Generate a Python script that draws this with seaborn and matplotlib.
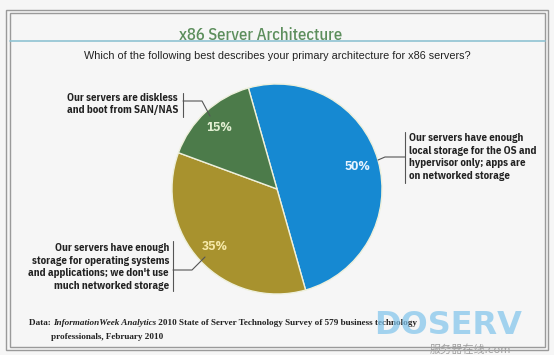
import matplotlib
matplotlib.use("Agg")
import matplotlib.pyplot as plt
import seaborn as sns
from matplotlib.lines import Line2D
from matplotlib.patches import Rectangle

# ---- data ----
categories = [
    "Our servers have enough\nlocal storage for the OS and\nhypervisor only; apps are\non networked storage",
    "Our servers have enough\nstorage for operating systems\nand applications; we don't use\nmuch networked storage",
    "Our servers are diskless\nand boot from SAN/NAS",
]
values = [50, 35, 15]
colors = ["#1689d2", "#a8922e", "#4c7b4a"]
pct_colors = ["#e6f3ff", "#f6e9a8", "#e2efd2"]

title = "x86 Server Architecture"
subtitle = "Which of the following best describes your primary architecture for x86 servers?"
source_parts = [("Data: ", "normal"), ("InformationWeek Analytics", "italic"),
                (" 2010 State of Server Technology Survey of 579 business technology", "normal")]
source_line2 = "professionals, February 2010"

sns.set_theme(style="white")
COND = ["IBM Plex Sans Condensed", "DejaVu Sans"]
SERIF = ["Liberation Serif", "DejaVu Serif"]
plt.rcParams["font.family"] = COND

W, H = 554, 355
fig = plt.figure(figsize=(W / 100, H / 100), dpi=100)
fig.patch.set_facecolor("#f6f6f6")


def P(x, y):
    return (x / W, 1 - y / H)


def fline(xs, ys, **kw):
    fig.add_artist(Line2D([x / W for x in xs], [1 - y / H for y in ys],
                          transform=fig.transFigure, **kw))


# frame (double border)
for (x0, y0, x1, y1) in [(6, 10, 548, 350), (9.5, 13, 545, 347)]:
    fig.add_artist(Rectangle(P(x0, y1), (x1 - x0) / W, (y1 - y0) / H,
                             transform=fig.transFigure, fill=False,
                             edgecolor="#9a9a9a", lw=1.0))

# teal rule under title
fline([10, 545], [41, 41], color="#8fc3d3", lw=1.2)

fig.text(*P(261, 35), title, ha="center", va="center", fontsize=12,
         fontweight="medium", color="#5c8e5c")
fig.text(*P(277, 56), subtitle, ha="center", va="center", fontsize=7.8,
         color="#222222", family=["Liberation Sans", "DejaVu Sans"])

# pie
cx, cy, r = 277, 189, 105
ax = fig.add_axes([(cx - r) / W, (H - cy - r) / H, 2 * r / W, 2 * r / H])
ax.set_facecolor("none")
wedges, texts, autotexts = ax.pie(
    values, colors=colors, startangle=105.8, counterclock=False,
    autopct="%d%%", pctdistance=0.8,
    wedgeprops=dict(edgecolor="#eef0dc", linewidth=1.0),
    textprops=dict(fontsize=9.5, fontweight="bold"))
for t, c in zip(autotexts, pct_colors):
    t.set_color(c)
ax.set_xlim(-1, 1)
ax.set_ylim(-1, 1)
ax.axis("off")

lab_kw = dict(fontsize=7.8, fontweight="bold", color="#222222",
              linespacing=1.3)
lead_kw = dict(color="#555555", lw=0.8)

# blue label (right)
fig.text(*P(409, 157), categories[0], ha="left", va="center", **lab_kw)
fline([405, 405], [132, 183], **lead_kw)
fline([405, 385, 378], [157, 157, 160], **lead_kw)

# olive label (left bottom)
fig.text(*P(169, 267), categories[1], ha="right", va="center",
         multialignment="right", **lab_kw)
fline([173, 173], [241, 291], **lead_kw)
fline([173, 192, 205], [270, 270, 257], **lead_kw)

# green label (left top)
fig.text(*P(178, 104), categories[2], ha="right", va="center",
         multialignment="right", **lab_kw)
fline([183, 183], [93, 117], **lead_kw)
fline([183, 202, 210], [101, 101, 116], **lead_kw)

# source (chained pieces)
renderer = fig.canvas.get_renderer()
x = 29
for s, st in source_parts:
    t = fig.text(*P(x, 323), s, ha="left", va="center", fontsize=6.6,
                 style=st, fontweight="bold", family=SERIF, color="#222222")
    x += t.get_window_extent(renderer).width
fig.text(*P(51, 337), source_line2, ha="left", va="center", fontsize=6.6,
         fontweight="bold", family=SERIF, color="#222222")

# watermark
fig.text(*P(448, 326), "DOSERV", ha="center", va="center", fontsize=23,
         fontweight="bold", color="#7fc4ec", alpha=0.7,
         family=["DejaVu Sans"])
fig.text(*P(470, 350), "服务器在线.com", ha="center", va="center",
         fontsize=8, color="#a0a0a0",
         family=["Noto Sans CJK SC", "DejaVu Sans"])

fig.savefig("out.png", dpi=100, facecolor=fig.get_facecolor())
